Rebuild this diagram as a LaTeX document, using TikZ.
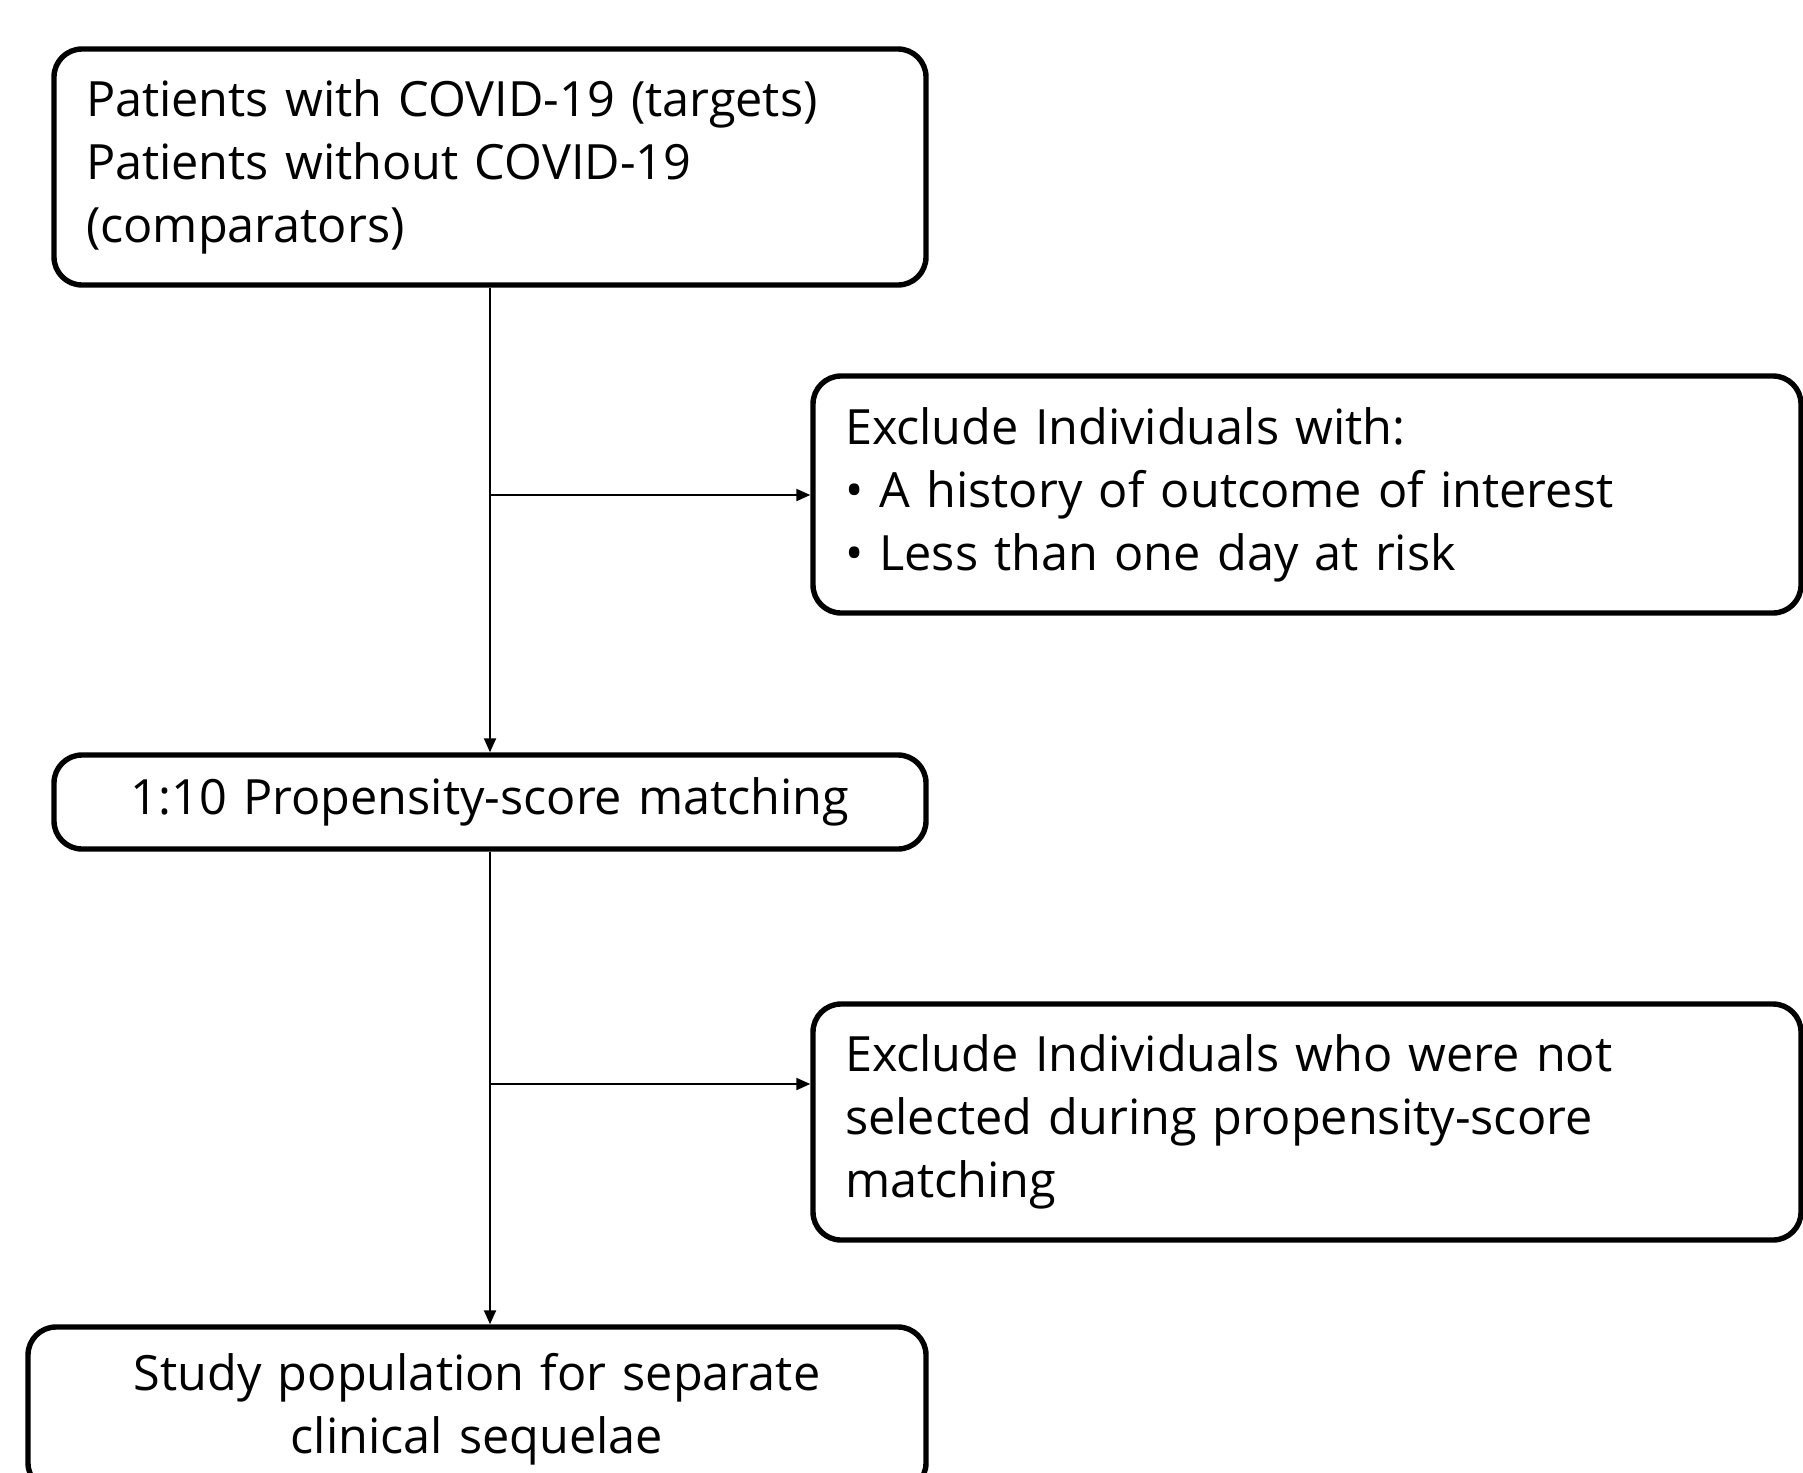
\documentclass[tikz,border=0pt]{standalone}
\usepackage{fontspec}
\setmainfont{Open Sans}
\usetikzlibrary{arrows.meta}
\begin{document}
\begin{tikzpicture}[x=0.5pt,y=-0.5pt,
 box/.style={draw, line width=2.7pt, rounded corners=14pt, inner xsep=16pt, inner ysep=0pt,
   font=\fontsize{24.3pt}{31.5pt}\selectfont, align=left},
 conn/.style={line width=1pt, -{Triangle[length=7pt,width=6pt]}}]
\useasboundingbox (0,0) rectangle (1803,1472);
\clip (0,0) rectangle (1803,1472);
\node[box, minimum width=436pt, minimum height=118pt, text width=404pt] (a) at (490,167)
  {Patients with COVID-19 (targets)\\Patients without COVID-19\\(comparators)};
\node[box, minimum width=494pt, minimum height=118.5pt, text width=462pt] (b) at (1307,494.5)
  {Exclude Individuals with:\\• A history of outcome of interest\\• Less than one day at risk};
\node[box, minimum width=436pt, minimum height=47pt, text width=404pt, align=center] (c) at (490,802)
  {1:10 Propensity-score matching};
\node[box, minimum width=494pt, minimum height=118pt, text width=462pt] (d) at (1307,1122)
  {Exclude Individuals who were not\\selected during propensity-score\\matching};
\node[box, minimum width=449pt, minimum height=82pt, text width=417pt, align=center] (e) at (477,1409)
  {Study population for separate\\clinical sequelae};
\coordinate (j1) at (490,495);
\coordinate (j2) at (490,1084);
\draw[conn] (a.south) -- (c.north);
\draw[conn] (j1) -- (b.west |- j1);
\draw[conn] (c.south) -- (c.south |- e.north);
\draw[conn] (j2) -- (d.west |- j2);
\end{tikzpicture}
\end{document}
